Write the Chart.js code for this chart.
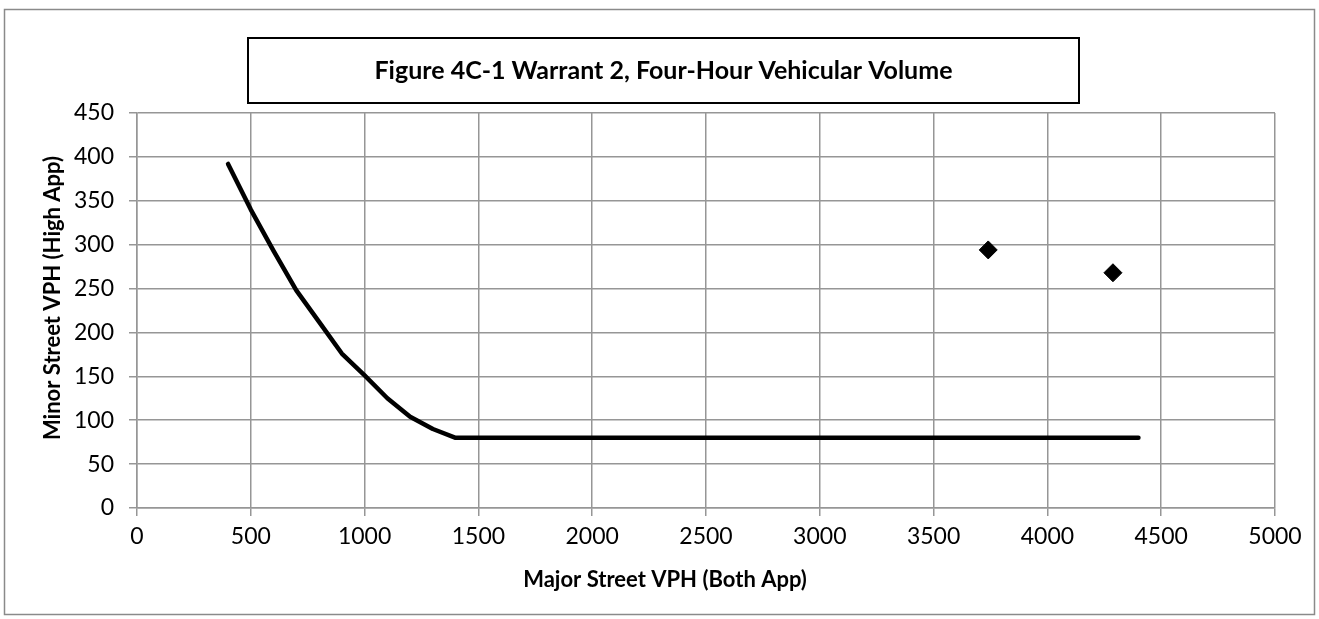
<!DOCTYPE html>
<html lang="en">
<head>
    <meta charset="UTF-8">
    <title>Figure 4C-1 Warrant 2, Four-Hour Vehicular Volume</title>
    <script src="https://cdn.jsdelivr.net/npm/chart.js"></script>
    <style>
        html, body { margin: 0; padding: 0; background: #fff; }
        canvas { display: block; }
    </style>
</head>
<body>
<canvas id="warrantChart" width="1319" height="619"></canvas>

<script>
    // warrant curve (major street total vs minor street high approach)
    const curveMajor = [400, 500, 600, 700, 800, 900, 1000, 1100, 1200, 1300, 1400, 4400];
    const curveMinor = [392, 340, 293, 248, 212, 176, 151, 125, 104, 90, 80, 80];

    // counted hours
    const countMajor = [3740, 4288];
    const countMinor = [294, 268];

    // axis ranges / tick steps
    const xTicks = { min: 0, max: 5000, step: 500 };
    const yTicks = { min: 0, max: 450, step: 50 };

    const chartTitle = "Figure 4C-1 Warrant 2, Four-Hour Vehicular Volume";
    const xTitle = "Major Street VPH (Both App)";
    const yTitle = "Minor Street VPH (High App)";

    const FONT = "Lato, 'Open Sans', sans-serif";
    const GRID = "#969696";

    function toPoints(xs, ys) {
        return xs.map((x, i) => ({ x: x, y: ys[i] }));
    }

    // frame, title box and axis titles, Excel style
    const framePlugin = {
        id: "frame",
        beforeDraw(chart) {
            const ctx = chart.ctx;
            ctx.save();
            ctx.fillStyle = "#fff";
            ctx.fillRect(0, 0, chart.width, chart.height);
            ctx.strokeStyle = "#8a8a8a";
            ctx.lineWidth = 1.5;
            ctx.strokeRect(4.5, 9.5, chart.width - 9, chart.height - 14);
            ctx.restore();
        },
        afterDraw(chart) {
            const ctx = chart.ctx;
            ctx.save();
            // title box
            ctx.fillStyle = "#fff";
            ctx.fillRect(248, 38, 831, 65);
            ctx.strokeStyle = "#000";
            ctx.lineWidth = 2;
            ctx.strokeRect(248, 38, 831, 65);
            ctx.fillStyle = "#000";
            ctx.textAlign = "center";
            ctx.textBaseline = "middle";
            ctx.font = "bold 25px " + FONT;
            ctx.fillText(chartTitle, 663.5, 71);

            // axis titles
            ctx.font = "bold 22px " + FONT;
            ctx.fillText(xTitle, 665, 580);
            ctx.translate(53, 298);
            ctx.rotate(-Math.PI / 2);
            ctx.fillText(yTitle, 0, 0);
            ctx.restore();
        }
    };

    new Chart(document.getElementById("warrantChart"), {
        type: "scatter",
        data: {
            datasets: [
                {
                    label: "Warrant curve",
                    data: toPoints(curveMajor, curveMinor),
                    showLine: true,
                    borderColor: "#000",
                    borderWidth: 4.5,
                    borderCapStyle: "round",
                    borderJoinStyle: "round",
                    tension: 0,
                    pointRadius: 0,
                    pointHoverRadius: 0
                },
                {
                    label: "Counts",
                    data: toPoints(countMajor, countMinor),
                    showLine: false,
                    pointStyle: "rectRot",
                    pointRadius: 9,
                    pointHoverRadius: 9,
                    backgroundColor: "#000",
                    borderColor: "#000",
                    borderWidth: 1
                }
            ]
        },
        options: {
            responsive: false,
            animation: false,
            devicePixelRatio: 1,
            layout: { padding: { left: 0, right: 44, top: 113, bottom: 0 } },
            plugins: {
                legend: { display: false },
                title: { display: false },
                tooltip: { enabled: false }
            },
            scales: {
                x: {
                    type: "linear",
                    min: xTicks.min,
                    max: xTicks.max,
                    grid: { color: GRID, lineWidth: 1.5, tickLength: 8 },
                    border: { color: GRID, width: 1.5 },
                    ticks: {
                        stepSize: xTicks.step,
                        color: "#000",
                        padding: 7,
                        font: { family: FONT, size: 23 },
                        callback: v => String(v)
                    },
                    afterFit(scale) {
                        scale.height = 111;
                        scale.paddingLeft = 0;
                        scale.paddingRight = 0;
                    }
                },
                y: {
                    type: "linear",
                    min: yTicks.min,
                    max: yTicks.max,
                    grid: { color: GRID, lineWidth: 1.5, tickLength: 8 },
                    border: { color: GRID, width: 1.5 },
                    ticks: {
                        stepSize: yTicks.step,
                        color: "#000",
                        padding: 15,
                        font: { family: FONT, size: 23 },
                        callback: v => String(v)
                    },
                    afterFit(scale) {
                        scale.width = 137;
                        scale.paddingTop = 0;
                        scale.paddingBottom = 0;
                    }
                }
            }
        },
        plugins: [framePlugin]
    });
</script>
</body>
</html>
